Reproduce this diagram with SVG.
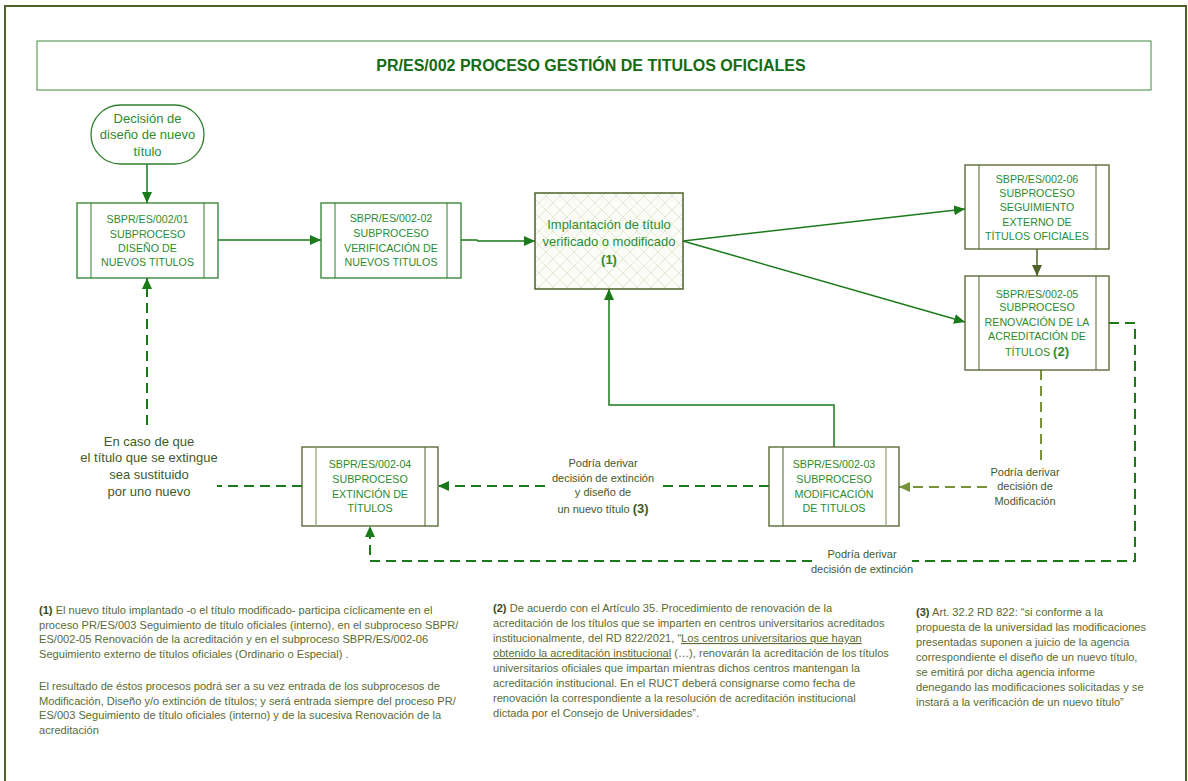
<svg xmlns="http://www.w3.org/2000/svg" width="1188" height="781" viewBox="0 0 1188 781">
<defs>
<style>
.frame{fill:#fff;stroke:#4f6228;stroke-width:2}
.titlebox{fill:#fff;stroke:#3c8a3c;stroke-width:1}
.title{font-family:"Liberation Sans",Arial,sans-serif;font-size:16px;font-weight:bold;fill:#136b13;text-anchor:middle}
.sub{fill:#fff;stroke:#2f7f2f;stroke-width:1.3}
.subo{fill:#fff;stroke:#4f6228;stroke-width:1.3}
.inl{stroke:#4f6228;stroke-width:1}
.inr{stroke:#9aa57a;stroke-width:1.3}
.inlg{stroke:#2f7f2f;stroke-width:1}
.nt{font-family:"Liberation Sans",Arial,sans-serif;font-size:10.7px;fill:#2e8b2e;text-anchor:middle}
.bt{font-family:"Liberation Sans",Arial,sans-serif;font-size:13px;fill:#2e8b2e;text-anchor:middle}
.lbl{font-family:"Liberation Sans",Arial,sans-serif;font-size:11px;fill:#3f5a2a;text-anchor:middle}
.lbl13{font-family:"Liberation Sans",Arial,sans-serif;font-size:13px;fill:#3f5a2a;text-anchor:middle}
.b{font-weight:bold}
.fn{font-family:"Liberation Sans",Arial,sans-serif;font-size:11.1px;fill:#5a6b32}
.fnb{font-weight:bold;fill:#3b4a1e}
.u{text-decoration:underline}
.solid{fill:none;stroke:#1a7a1a;stroke-width:1.5}
.solido{fill:none;stroke:#4f6228;stroke-width:1.5}
.dash{fill:none;stroke:#1a7a1a;stroke-width:2;stroke-dasharray:10,6}
.dashl{fill:none;stroke:#77933c;stroke-width:2;stroke-dasharray:10,6}
</style>
<marker id="ag" markerUnits="userSpaceOnUse" markerWidth="12" markerHeight="10" refX="11" refY="5" orient="auto"><path d="M0,0 L11,5 L0,10 z" fill="#1a7a1a"/></marker>
<marker id="ao" markerUnits="userSpaceOnUse" markerWidth="12" markerHeight="10" refX="11" refY="5" orient="auto"><path d="M0,0 L11,5 L0,10 z" fill="#4f6228"/></marker>
<marker id="al" markerUnits="userSpaceOnUse" markerWidth="12" markerHeight="10" refX="11" refY="5" orient="auto"><path d="M0,0 L11,5 L0,10 z" fill="#77933c"/></marker>
<pattern id="hatch" patternUnits="userSpaceOnUse" width="14" height="14">
<rect width="14" height="14" fill="#fbfcf7"/>
<path d="M0,0 L14,14 M14,0 L0,14" stroke="#e2ebd2" stroke-width="1"/>
</pattern>
</defs>

<rect x="5" y="6" width="1181" height="790" class="frame"/>

<g id="title">
<rect x="37" y="41" width="1114" height="49" class="titlebox"/>
<text x="591" y="71" class="title">PR/ES/002 PROCESO GESTIÓN DE TITULOS OFICIALES</text>
</g>

<g id="connectors">
<path d="M147,164 V203" class="solid" marker-end="url(#ag)"/>
<path d="M218,240 H321" class="solid" marker-end="url(#ag)"/>
<path d="M461,240 H477 L478,241 H535" class="solid" marker-end="url(#ag)"/>
<path d="M683,241 L965,209" class="solid" marker-end="url(#ag)"/>
<path d="M683,241 L965,322" class="solid" marker-end="url(#ag)"/>
<path d="M1037,249 V276" class="solido" marker-end="url(#ao)"/>
<path d="M834,447 V405 H609 V289" class="solid" marker-end="url(#ag)"/>
<path d="M1041,370 V464 M987,487 H899" class="dashl" marker-end="url(#al)"/>
<path d="M1109,323 H1135 V561 H912 M812,561 H370 V526" class="dash" marker-end="url(#ag)"/>
<path d="M769,486 H660 M545,486 H438" class="dash" marker-end="url(#ag)"/>
<path d="M302,486 H217 M147,425 V278" class="dash" marker-end="url(#ag)"/>
</g>

<g id="start">
<rect x="91" y="105" width="113" height="59" rx="29.5" ry="29.5" fill="#fff" stroke="#2f7f2f" stroke-width="1.3"/>
<text class="bt"><tspan x="147.5" y="122.5">Decisión de</tspan><tspan x="147.5" y="138.5">diseño de nuevo</tspan><tspan x="147.5" y="155.5">título</tspan></text>
</g>

<g id="node1">
<rect x="77" y="203" width="141" height="75" class="sub"/>
<line x1="91" y1="203" x2="91" y2="278" class="inlg"/>
<line x1="204" y1="203" x2="204" y2="278" class="inlg"/>
<text class="nt"><tspan x="147.5" y="223">SBPR/ES/002/01</tspan><tspan x="147.5" y="238">SUBPROCESO</tspan><tspan x="147.5" y="252">DISEÑO DE</tspan><tspan x="147.5" y="266">NUEVOS TITULOS</tspan></text>
</g>

<g id="node2">
<rect x="321" y="203" width="140" height="75" class="sub"/>
<line x1="335" y1="203" x2="335" y2="278" class="inlg"/>
<line x1="447" y1="203" x2="447" y2="278" class="inlg"/>
<text class="nt"><tspan x="391" y="222">SBPR/ES/002-02</tspan><tspan x="391" y="237">SUBPROCESO</tspan><tspan x="391" y="252">VERIFICACIÓN DE</tspan><tspan x="391" y="266">NUEVOS TITULOS</tspan></text>
</g>

<g id="implantacion">
<rect x="535" y="193" width="148" height="96" fill="url(#hatch)" stroke="#4f6228" stroke-width="1.5"/>
<text class="bt"><tspan x="609" y="228.5">Implantación de título</tspan><tspan x="609" y="245.5">verificado o modificado</tspan><tspan x="609" y="263.5" class="b">(1)</tspan></text>
</g>

<g id="node6">
<rect x="965" y="165" width="144" height="84" class="subo"/>
<line x1="979" y1="165" x2="979" y2="249" class="inl"/>
<line x1="1096" y1="165" x2="1096" y2="249" class="inl"/>
<text class="nt"><tspan x="1037" y="183">SBPR/ES/002-06</tspan><tspan x="1037" y="197">SUBPROCESO</tspan><tspan x="1037" y="211">SEGUIMIENTO</tspan><tspan x="1037" y="226">EXTERNO DE</tspan><tspan x="1037" y="240">TÍTULOS OFICIALES</tspan></text>
</g>

<g id="node5">
<rect x="965" y="276" width="144" height="94" class="subo"/>
<line x1="979" y1="276" x2="979" y2="370" class="inl"/>
<line x1="1096" y1="276" x2="1096" y2="370" class="inl"/>
<text class="nt"><tspan x="1037" y="298">SBPR/ES/002-05</tspan><tspan x="1037" y="311">SUBPROCESO</tspan><tspan x="1037" y="326">RENOVACIÓN DE LA</tspan><tspan x="1037" y="340">ACREDITACIÓN DE</tspan><tspan x="1037" y="356">TÍTULOS <tspan class="b" style="font-size:13px">(2)</tspan></tspan></text>
</g>

<g id="node3">
<rect x="769" y="447" width="130" height="79" class="subo"/>
<line x1="783" y1="447" x2="783" y2="526" class="inl"/>
<line x1="886" y1="447" x2="886" y2="526" class="inr"/>
<text class="nt"><tspan x="834" y="468">SBPR/ES/002-03</tspan><tspan x="834" y="483">SUBPROCESO</tspan><tspan x="834" y="498">MODIFICACIÓN</tspan><tspan x="834" y="512">DE TITULOS</tspan></text>
</g>

<g id="node4">
<rect x="302" y="447" width="136" height="79" class="subo"/>
<line x1="316" y1="447" x2="316" y2="526" class="inr"/>
<line x1="425" y1="447" x2="425" y2="526" class="inl"/>
<text class="nt"><tspan x="370" y="468">SBPR/ES/002-04</tspan><tspan x="370" y="483">SUBPROCESO</tspan><tspan x="370" y="498">EXTINCIÓN DE</tspan><tspan x="370" y="512">TÍTULOS</tspan></text>
</g>

<g id="labels">
<text class="lbl13"><tspan x="149" y="445.5">En caso de que</tspan><tspan x="149" y="461.5">el título que se extingue</tspan><tspan x="149" y="478.5">sea sustituido</tspan><tspan x="149" y="495.5">por uno nuevo</tspan></text>
<text class="lbl"><tspan x="603" y="467">Podría derivar</tspan><tspan x="603" y="482">decisión de extinción</tspan><tspan x="603" y="496">y diseño de</tspan><tspan x="603" y="513">un nuevo título <tspan class="b" style="font-size:13px">(3)</tspan></tspan></text>
<text class="lbl"><tspan x="1025" y="476">Podría derivar</tspan><tspan x="1025" y="490">decisión de</tspan><tspan x="1025" y="505">Modificación</tspan></text>
<text class="lbl"><tspan x="862" y="558">Podría derivar</tspan><tspan x="862" y="573">decisión de extinción</tspan></text>
</g>

<g id="footnotes">
<text class="fn"><tspan x="39" y="614"><tspan class="fnb">(1)</tspan> El nuevo título implantado -o el título modificado- participa cíclicamente en el</tspan><tspan x="39" y="628.5">proceso PR/ES/003 Seguimiento de título oficiales (interno), en el subproceso SBPR/</tspan><tspan x="39" y="643">ES/002-05 Renovación de la acreditación y en el subproceso SBPR/ES/002-06</tspan><tspan x="39" y="657.5">Seguimiento externo de títulos oficiales (Ordinario o Especial) .</tspan></text>
<text class="fn"><tspan x="39" y="690">El resultado de éstos procesos podrá ser a su vez entrada de los subprocesos de</tspan><tspan x="39" y="704.5">Modificación, Diseño y/o extinción de títulos; y será entrada siempre del proceso PR/</tspan><tspan x="39" y="719">ES/003 Seguimiento de título oficiales (interno) y de la sucesiva Renovación de la</tspan><tspan x="39" y="733.5">acreditación</tspan></text>
<text class="fn"><tspan x="493" y="612"><tspan class="fnb">(2)</tspan> De acuerdo con el Artículo 35. Procedimiento de renovación de la</tspan><tspan x="493" y="627">acreditación de los títulos que se imparten en centros universitarios acreditados</tspan><tspan x="493" y="642">institucionalmente, del RD 822/2021, “<tspan class="u">Los centros universitarios que hayan</tspan></tspan><tspan x="493" y="657"><tspan class="u">obtenido la acreditación institucional</tspan> (…), renovarán la acreditación de los títulos</tspan><tspan x="493" y="672">universitarios oficiales que impartan mientras dichos centros mantengan la</tspan><tspan x="493" y="687">acreditación institucional. En el RUCT deberá consignarse como fecha de</tspan><tspan x="493" y="702">renovación la correspondiente a la resolución de acreditación institucional</tspan><tspan x="493" y="717">dictada por el Consejo de Universidades”.</tspan></text>
<text class="fn"><tspan x="916" y="616"><tspan class="fnb">(3)</tspan> Art. 32.2 RD 822: “si conforme a la</tspan><tspan x="916" y="631">propuesta de la universidad las modificaciones</tspan><tspan x="916" y="646">presentadas suponen a juicio de la agencia</tspan><tspan x="916" y="661">correspondiente el diseño de un nuevo título,</tspan><tspan x="916" y="676">se emitirá por dicha agencia informe</tspan><tspan x="916" y="691">denegando las modificaciones solicitadas y se</tspan><tspan x="916" y="706">instará a la verificación de un nuevo título”</tspan></text>
</g>
</svg>
